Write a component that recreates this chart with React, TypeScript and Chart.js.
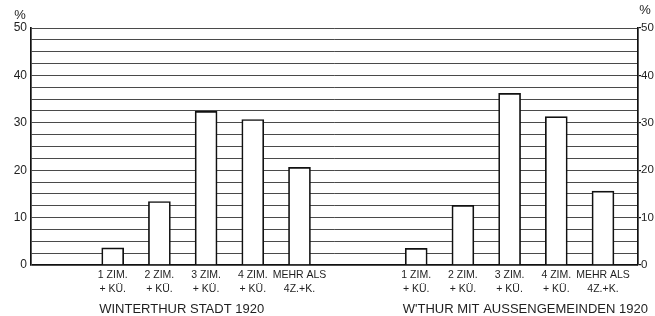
import React, { useEffect, useRef } from "react";
import { Chart, registerables } from "chart.js";

Chart.register(...registerables);

// ---- data ----
const categories: string[][] = [
  ["1 ZIM.", "+ KÜ."],
  ["2 ZIM.", "+ KÜ."],
  ["3 ZIM.", "+ KÜ."],
  ["4 ZIM.", "+ KÜ."],
  ["MEHR ALS", "4Z.+K."],
];
const groupTitles: string[] = ["WINTERTHUR STADT 1920", "W'THUR MIT AUSSENGEMEINDEN 1920"];
const stadtValues: number[] = [3.6, 13.4, 32.4, 30.7, 20.6];
const aussenValues: number[] = [3.5, 12.6, 36.2, 31.3, 15.6];
const yTickLabels: number[] = [0, 10, 20, 30, 40, 50];
const unitLabel = "%";

// ---- layout (not data) ----
const W = 655;
const H = 316;
const SLOT_COUNT = 26;
const GROUP_START = [3, 16];
const SLOT_STEP = 2;
const FONT = "'Liberation Sans', Arial, sans-serif";
const INK = "#1e1e1e";

export default function App() {
  const ref = useRef<HTMLCanvasElement | null>(null);

  useEffect(() => {
    if (!ref.current) return;
    const labels: (string | string[])[] = Array(SLOT_COUNT).fill("");
    const values: (number | null)[] = Array(SLOT_COUNT).fill(null);
    const groups = [stadtValues, aussenValues];
    groups.forEach((vals, g) => {
      vals.forEach((v, i) => {
        const slot = GROUP_START[g] + i * SLOT_STEP;
        labels[slot] = categories[i];
        values[slot] = v;
      });
    });

    const titlePlugin = {
      id: "groupTitles",
      afterDraw(chart: any) {
        const ctx = chart.ctx;
        const xs = chart.scales.x;
        ctx.save();
        ctx.fillStyle = INK;
        ctx.font = `13px ${FONT}`;
        ctx.textAlign = "left";
        ctx.textBaseline = "alphabetic";
        groupTitles.forEach((t, g) => {
          const x = xs.getPixelForValue(GROUP_START[g]) - 13.5;
          ctx.fillText(t, x, 313);
        });
        ctx.textAlign = "center";
        ctx.textBaseline = "middle";
        ctx.font = `13px ${FONT}`;
        ctx.fillText(unitLabel, 20, 15);
        ctx.fillText(unitLabel, 645, 10);
        ctx.restore();
      },
    };

    const isMain = (v: number) => yTickLabels.includes(v);
    const allTicks = (s: any) => {
      const t = [];
      for (let v = 0; v <= 50; v += 2.5) t.push({ value: v });
      s.ticks = t;
    };

    const chart = new Chart(ref.current, {
      type: "bar",
      data: {
        labels,
        datasets: [
          {
            data: values,
            backgroundColor: "#ffffff",
            borderColor: "#111111",
            borderWidth: 1.7,
            barThickness: 22,
            borderSkipped: "bottom",
          } as any,
        ],
      },
      options: {
        responsive: false,
        devicePixelRatio: 1,
        animation: false,
        layout: { padding: { top: 28, left: 0, right: 0, bottom: 0 } },
        plugins: { legend: { display: false }, tooltip: { enabled: false } },
        scales: {
          x: {
            type: "category",
            grid: { display: false, drawTicks: false },
            border: { display: false },
            ticks: {
              autoSkip: false,
              maxRotation: 0,
              minRotation: 0,
              padding: 4,
              color: INK,
              font: { family: FONT, size: 10.5, lineHeight: 1.25 },
            },
            afterFit: (s: any) => {
              s.height = 51;
            },
          },
          y: {
            position: "left",
            min: 0,
            max: 50,
            afterBuildTicks: allTicks,
            ticks: {
              autoSkip: false,
              padding: 4,
              color: INK,
              font: { family: FONT, size: 12 },
              callback: (v: any) => (isMain(Number(v)) ? String(v) : ""),
            },
            grid: {
              drawTicks: false,
              color: (c: any) => (c.tick && c.tick.value === 0 ? "#111" : "#4a4a4a"),
              lineWidth: (c: any) => (c.tick && c.tick.value === 0 ? 1.7 : 1),
            },
            border: { color: "#111", width: 1.7 },
            afterFit: (s: any) => {
              s.width = 31;
            },
          },
          y2: {
            position: "right",
            min: 0,
            max: 50,
            afterBuildTicks: allTicks,
            ticks: {
              autoSkip: false,
              padding: 0,
              color: INK,
              font: { family: FONT, size: 11.5 },
              callback: (v: any) => (isMain(Number(v)) ? String(v) : ""),
            },
            grid: {
              drawOnChartArea: false,
              drawTicks: true,
              tickLength: 3,
              color: (c: any) => (c.tick && isMain(c.tick.value) ? "#111" : "rgba(0,0,0,0)"),
              lineWidth: 1.2,
            },
            border: { color: "#111", width: 1.7 },
            afterFit: (s: any) => {
              s.width = 17;
            },
          },
        },
      } as any,
      plugins: [titlePlugin],
    });
    return () => chart.destroy();
  }, []);

  return (
    <div style={{ position: "fixed", left: 0, top: 0, width: W, height: H, background: "#fff" }}>
      <canvas ref={ref} width={W} height={H} style={{ display: "block", width: W, height: H }} />
    </div>
  );
}
